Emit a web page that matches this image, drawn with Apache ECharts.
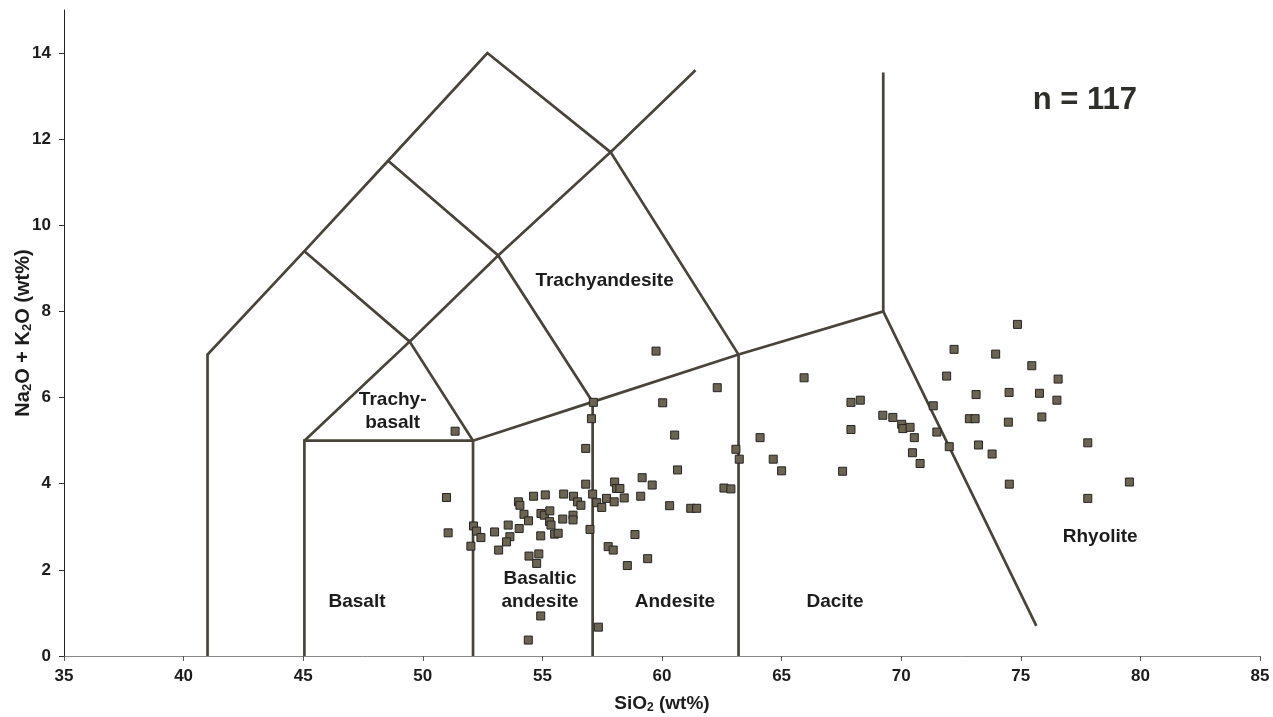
<!DOCTYPE html>
<html>
<head>
<meta charset="utf-8">
<script src="https://cdn.jsdelivr.net/npm/echarts@6/dist/echarts.min.js"></script>
<style>
html,body{margin:0;padding:0;background:#fff;}
#chart{width:1273px;height:717px;}
</style>
</head>
<body>
<div id="chart"></div>
<script>
// ---- sample data (SiO2 wt%, Na2O+K2O wt%) ----
const sio2 = [51.35,56.81,56.81,58.02,50.99,51.06,52.12,52.25,52.43,52.01,
  53.0,53.57,54.03,53.64,53.5,53.17,54.0,54.06,54.23,54.42,
  54.63,55.12,54.94,55.08,55.31,55.30,55.36,54.93,55.51,55.66,
  55.85,56.28,56.28,55.89,56.30,56.47,56.61,54.44,54.85,54.76,
  57.10,57.27,57.48,57.68,58.0,58.1,56.99,57.75,57.96,54.93,
  54.41,57.34,
  59.75,62.31,60.03,60.53,64.1,63.09,63.23,64.65,65.0,60.65,
  58.24,59.17,59.59,59.11,58.42,62.59,62.88,60.32,61.2,61.45,
  58.87,59.4,58.55,57.13,57.05,
  72.21,71.9,65.94,73.13,67.9,68.29,69.23,69.65,70.02,70.07,
  70.37,71.34,70.55,67.9,72.85,73.09,71.49,70.47,70.79,72.01,
  73.23,67.55,
  74.86,73.95,75.46,76.56,74.51,75.78,76.51,74.48,75.88,73.8,
  77.8,74.52,79.54,77.8];
const alkali = [5.22,4.82,3.99,4.04,3.68,2.86,3.02,2.90,2.75,2.55,
  2.88,3.04,2.96,2.77,2.65,2.46,3.58,3.50,3.29,3.14,
  3.71,3.74,3.31,3.27,3.37,3.12,3.04,2.79,2.83,2.85,
  3.18,3.27,3.16,3.76,3.71,3.58,3.50,2.32,2.37,2.15,
  3.76,3.56,3.45,3.66,3.58,3.89,2.94,2.54,2.46,0.93,
  0.37,0.67,
  7.08,6.23,5.88,5.13,5.07,4.80,4.57,4.57,4.30,4.32,
  3.89,4.14,3.97,3.71,3.67,3.90,3.88,3.49,3.43,3.43,
  2.82,2.26,2.10,5.89,5.51,
  7.12,6.50,6.46,6.07,5.89,5.94,5.59,5.54,5.38,5.28,
  5.31,5.81,5.07,5.26,5.51,5.51,5.2,4.72,4.47,4.86,
  4.90,4.29,
  7.70,7.01,6.74,6.43,6.12,6.10,5.94,5.43,5.55,4.69,
  4.95,3.99,4.04,3.66];

// ---- TAS field boundaries (as drawn in the figure) ----
const outerLine   = [[41,0],[41,7],[45.05,9.4],[48.55,11.5],[52.7,14],[57.85,11.7],[61.4,13.6]];
const basaltBox   = [[45.05,0],[45.05,5],[52.1,5],[52.1,0]];
const lowerChain  = [[45.05,5],[49.45,7.3],[52.1,5],[57.1,5.9],[63.2,7],[69.25,8],[75.65,0.7]];
const midChain1   = [[57.1,0],[57.1,5.9],[53.15,9.3],[48.55,11.5]];
const midChain2   = [[45.05,9.4],[49.45,7.3],[53.15,9.3],[57.85,11.7],[63.2,7],[63.2,0]];
const rhyoliteTop = [[69.25,8],[69.25,13.55]];
const boundaries = [outerLine, basaltBox, lowerChain, midChain1, midChain2, rhyoliteTop];

// ---- field names ----
const fieldNames = ['Trachyandesite','Trachy-\nbasalt','Basalt','Basaltic\nandesite','Andesite','Dacite','Rhyolite'];
const fieldPos   = [[57.6,8.72],[48.74,5.68],[47.25,1.25],[54.9,1.53],[60.54,1.25],[67.23,1.25],[78.32,2.78]];

// ---- axis ticks ----
const xTicks = [35,40,45,50,55,60,65,70,75,80,85];
const yTicks = [0,2,4,6,8,10,12,14];

const FONT = 'Liberation Sans, Arial, sans-serif';
const LINE_COLOR = '#48443a';

const series = boundaries.map(b => ({
  type: 'line', data: b, symbol: 'none', silent: true, z: 2,
  lineStyle: { color: LINE_COLOR, width: 2.7, join: 'miter' }, animation: false
}));

series.push({
  type: 'scatter', z: 5, animation: false,
  data: sio2.map((x, i) => [x, alkali[i]]),
  symbol: 'rect', symbolSize: 8,
  itemStyle: { color: '#6c6452', borderColor: '#262420', borderWidth: 1, opacity: 1 }
});

series.push({
  type: 'scatter', z: 6, animation: false, silent: true,
  symbolSize: 0, itemStyle: { opacity: 1 },
  data: fieldNames.map((n, i) => ({ name: n, value: fieldPos[i] })),
  label: {
    show: true, position: 'inside', formatter: p => p.name,
    fontFamily: FONT, fontWeight: 'bold', fontSize: 19, color: '#1c1c1c',
    lineHeight: 23, align: 'center', verticalAlign: 'middle'
  }
});

series.push({
  type: 'scatter', z: 6, animation: false, silent: true, symbolSize: 0,
  itemStyle: { opacity: 1 },
  data: [{ name: 'n = 117', value: [77.68, 12.9] }],
  label: {
    show: true, position: 'inside', formatter: p => p.name,
    fontFamily: FONT, fontWeight: 'bold', fontSize: 31, color: '#2e2e2a'
  }
});

const chart = echarts.init(document.getElementById('chart'), null, { renderer: 'canvas' });
chart.setOption({
  backgroundColor: '#ffffff',
  animation: false,
  grid: { left: 64, right: 13, top: 10, bottom: 61, containLabel: false, outerBoundsMode: 'none' },
  xAxis: {
    type: 'value', min: 35, max: 85, interval: 5,
    name: 'SiO{sub|2} (wt%)', nameLocation: 'middle', nameGap: 38, nameMoveOverlap: false,
    nameTextStyle: {
      fontFamily: FONT, fontWeight: 'bold', fontSize: 19, color: '#1c1c1c',
      rich: { sub: { fontFamily: FONT, fontWeight: 'bold', fontSize: 12, color: '#1c1c1c', verticalAlign: 'bottom', padding: [8, 0, 0, 0] } }
    },
    splitLine: { show: false },
    axisLine: { onZero: false, lineStyle: { color: '#8a8a8a', width: 1 } },
    axisTick: { show: true, length: 5, lineStyle: { color: '#555' }, customValues: xTicks },
    axisLabel: { fontFamily: FONT, fontWeight: 'bold', fontSize: 17, color: '#1c1c1c', margin: 12, customValues: xTicks }
  },
  yAxis: {
    type: 'value', min: 0, max: 15, interval: 2,
    name: 'Na{sub|2}O + K{sub|2}O (wt%)', nameLocation: 'middle', nameGap: 30, nameMoveOverlap: false,
    nameTextStyle: {
      fontFamily: FONT, fontWeight: 'bold', fontSize: 20, color: '#1c1c1c',
      rich: { sub: { fontFamily: FONT, fontWeight: 'bold', fontSize: 13, color: '#1c1c1c', verticalAlign: 'bottom', padding: [8, 0, 0, 0] } }
    },
    splitLine: { show: false },
    axisLine: { onZero: false, lineStyle: { color: '#222', width: 1 } },
    axisTick: { show: true, length: 5, lineStyle: { color: '#333' }, customValues: yTicks },
    axisLabel: { fontFamily: FONT, fontWeight: 'bold', fontSize: 17, color: '#1c1c1c', margin: 13, customValues: yTicks }
  },
  series: series
});
</script>
</body>
</html>
